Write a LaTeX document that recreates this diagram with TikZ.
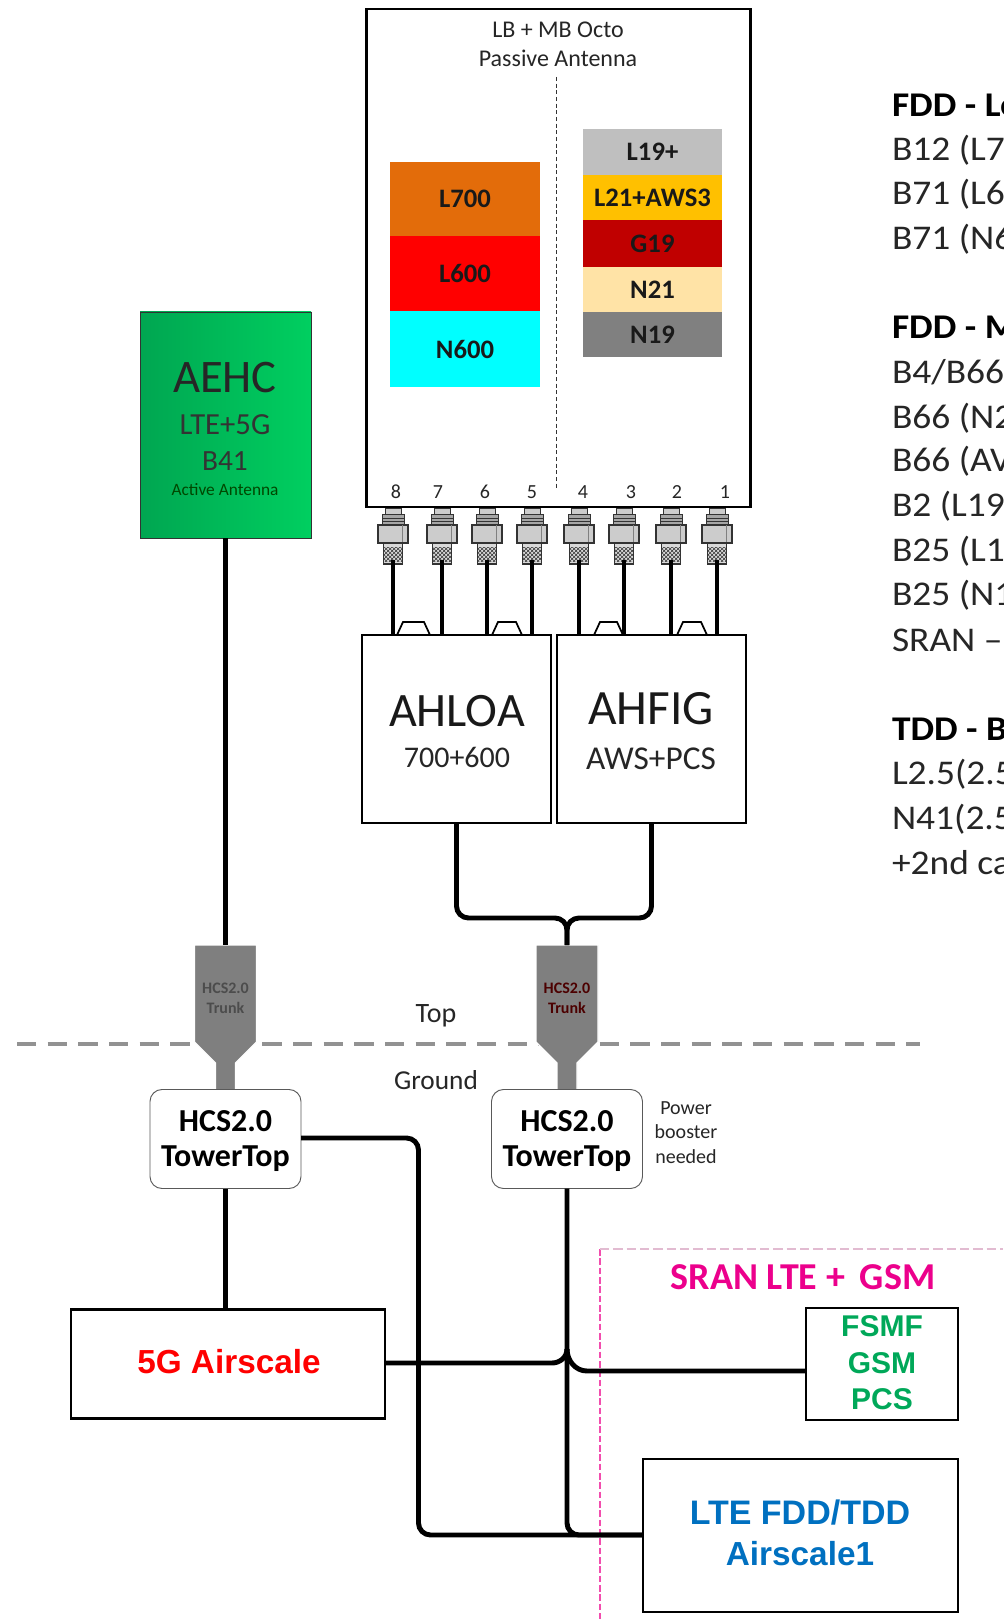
\documentclass[tikz,border=0pt]{standalone}
\usepackage{fontspec}
\setmainfont{Carlito}
\newfontfamily\arialfont{Liberation Sans}
\newfontfamily\sidefont[FakeStretch=1.08]{Carlito}
\usetikzlibrary{patterns}
\definecolor{bandOrange}{HTML}{E36C0A}
\definecolor{bandCyan}{HTML}{00FFFF}
\definecolor{bandGrey}{HTML}{BFBFBF}
\definecolor{bandGold}{HTML}{FFC000}
\definecolor{bandDark}{HTML}{C00000}
\definecolor{bandCream}{HTML}{FFE3A6}
\definecolor{bandSlate}{HTML}{808080}
\definecolor{trunkGrey}{HTML}{7F7F7F}
\definecolor{gsmGreen}{HTML}{00A859}
\definecolor{lteBlue}{HTML}{0070C0}
\definecolor{aehcL}{HTML}{00A651}
\definecolor{aehcR}{HTML}{00CF60}
\tikzset{
  sz/.style 2 args={minimum width=#1*0.75pt, minimum height=#2*0.75pt, inner sep=0pt, outer sep=0pt},
  boxs/.style={draw=black, line width=1.8pt},
  band/.style={fill=#1, draw=none},
  lbl/.style={inner sep=0pt, outer sep=0pt, anchor=center, align=center},
  bandtxt/.style={lbl, font=\fontsize{20}{24}\selectfont\bfseries, text=black!90},
  cable/.style={draw=black, line width=3.7pt, rounded corners=9pt},
  joint/.style={draw=black, line width=3.7pt},
  port/.style={line width=0.7pt, draw=black!80},
  tower/.style={draw=black!65, line width=0.7pt, fill=white, rounded corners=9pt},
  towertxt/.style={lbl, font=\fontsize{24}{28}\selectfont\bfseries},
  trunktxt/.style={lbl, font=\fontsize{12}{14}\selectfont\bfseries, text=#1},
  side/.style={inner sep=0pt, outer sep=0pt, anchor=west, font=\fontsize{26}{30}\selectfont\sidefont, text=black!85},
  sideb/.style={side, font=\fontsize{26}{30}\selectfont\sidefont\bfseries, text=black},
  portnum/.style={lbl, font=\fontsize{15}{17}\selectfont, text=black!85},
  aerial/.style={lbl, font=\fontsize{25}{29}\selectfont\arialfont\bfseries},
  gsmtxt/.style={lbl, font=\fontsize{22.5}{26}\selectfont\arialfont\bfseries, text=gsmGreen}
}
\begin{document}
\begin{tikzpicture}[x=0.75pt,y=-0.75pt]
\path[use as bounding box] (0,0) rectangle (1003,1619);
\clip (0,0) rectangle (1003,1619);
\fill[white] (0,0) rectangle (1003,1619);

% Passive antenna
\node[boxs, sz={384}{498}, fill=white] (antenna) at (558.5,258) {};
\node[lbl, font=\fontsize{18}{21}\selectfont, text=black!85] (antT1) at (558,30) {LB + MB Octo};
\node[lbl, font=\fontsize{18}{21}\selectfont, text=black!85] (antT2) at (558,58) {Passive Antenna};
\coordinate (divT) at (556.5,77);
\coordinate (divB) at (556.5,490);
\draw[black!80, line width=0.7pt, densely dashed] (divT) -- (divB);

\node[band=bandOrange, sz={150}{74}] (l700) at (465,199) {};
\node[band=red, sz={150}{75}] (l600) at (465,273.5) {};
\node[band=bandCyan, sz={150}{76}] (n600) at (465,349) {};
\node[bandtxt] (tl700) at (l700) {L700};
\node[bandtxt] (tl600) at (l600) {L600};
\node[bandtxt] (tn600) at (n600) {N600};

\node[band=bandGrey, sz={139}{46}] (l19) at (652.5,152) {};
\node[band=bandGold, sz={139}{45}] (l21) at (652.5,197.5) {};
\node[band=bandDark, sz={139}{47}] (g19) at (652.5,243.5) {};
\node[band=bandCream, sz={139}{45}] (n21) at (652.5,289.5) {};
\node[band=bandSlate, sz={139}{45}] (n19) at (652.5,334.5) {};
\node[bandtxt] (tl19) at (l19) {L19+};
\node[bandtxt] (tl21) at (l21) {L21+AWS3};
\node[bandtxt] (tg19) at (g19) {G19};
\node[bandtxt] (tn21) at (n21) {N21};
\node[bandtxt] (tn19) at (n19) {N19};

% Port numbers
\foreach \n/\x in {8/396,7/438,6/485,5/532,4/583,3/631,2/677,1/725}
  \node[portnum] (num\n) at (\x,492) {\n};

% AHLOA / AHFIG
\node[boxs, sz={189}{188}, fill=white] (ahloa) at (456.5,729) {};
\node[boxs, sz={189}{188}, fill=white] (ahfig) at (651.5,729) {};
\node[lbl, font=\fontsize{36}{40}\selectfont, text=black!90] (ahloaT) at (457,711) {AHLOA};
\node[lbl, font=\fontsize{22.5}{26}\selectfont, text=black!85] (ahloaS) at (457,757) {700+600};
\node[lbl, font=\fontsize{37}{41}\selectfont, text=black!90] (ahfigT) at (651,709) {AHFIG};
\node[lbl, font=\fontsize{25}{29}\selectfont, text=black!85] (ahfigS) at (651,759) {AWS+PCS};

% Handles on top of radios
\foreach \a/\b in {397/430,492/522,594/623,677/707}
  \draw[black, line width=1.3pt] (\a,635) -- (\a+6,622) -- (\b-6,622) -- (\b,635);

% Port connectors and jumpers
\foreach \n/\x/\r in {8/393/ahloa,7/442/ahloa,6/487/ahloa,5/532/ahloa,4/579/ahfig,3/624/ahfig,2/671/ahfig,1/717/ahfig}{
  \coordinate (p\n) at (\x,560);
  \draw[cable] (p\n) -- (p\n |- \r.north);
  \begin{scope}[shift={(\x,0)}]
    \filldraw[port, fill=black!20] (-8,508) rectangle (8,514);
    \filldraw[port, fill=black!35] (-11,514) rectangle (11,525);
    \draw[port] (-11,518) -- (11,518) (-11,521.5) -- (11,521.5);
    \filldraw[port, line width=1pt, fill=black!20] (-15,525) rectangle (15,543);
    \draw[port, draw=black!50] (9,525) -- (9,543);
    \filldraw[port, line width=1pt, fill=black!15] (-9.5,543) rectangle (9.5,564);
    \fill[pattern=crosshatch, pattern color=black!80] (-9.5,547) rectangle (9.5,561);
  \end{scope}
  \draw[cable] (p\n) -- +(0,6);
}

% AEHC active antenna
\node[draw=black!80, line width=0.6pt, left color=aehcL, right color=aehcR, sz={171}{226}] (aehc) at (225.5,425) {};
\node[lbl, font=\fontsize{35}{39}\selectfont, text=black!85] (aehcT) at (225,378) {AEHC};
\node[lbl, font=\fontsize{23}{27}\selectfont, text=black!80] (aehcS) at (225,425) {LTE+5G};
\node[lbl, font=\fontsize{22}{26}\selectfont, text=black!80] (aehcB) at (225,461) {B41};
\node[lbl, font=\fontsize{13}{15}\selectfont, text=black!60!green!70!black] (aehcA) at (225,490) {Active Antenna};

% Top / Ground line
\coordinate (gndL) at (17,1044);
\coordinate (gndR) at (920,1044);
\draw[trunkGrey!85, line width=3.4pt, dash pattern=on 14.5pt off 8.5pt] (gndL) -- (gndR);
\node[lbl, font=\fontsize{21}{24}\selectfont, text=black!85] (topT) at (436,1016) {Top};
\node[lbl, font=\fontsize{20.5}{24}\selectfont, text=black!85] (gndT) at (436,1080) {Ground};

% Trunk shapes and tower tops
\foreach \c/\x/\col in {L/225.5/black!70,R/567/red!30!black}{
  \coordinate (trunk\c) at (\x,945);
  \fill[trunkGrey, draw=white, line width=1pt] (\x-31,945) -- (\x+31,945) -- (\x+31,1042) -- (\x+10,1063) -- (\x+10,1092) -- (\x-10,1092) -- (\x-10,1063) -- (\x-31,1042) -- cycle;
  \node[trunktxt=\col] (trunkT\c) at (\x,988) {HCS2.0};
  \node[trunktxt=\col] (trunkB\c) at (\x,1008) {Trunk};
}
\node[tower, sz={151}{99}] (ttL) at (225.5,1139) {};
\node[tower, sz={151}{99}] (ttR) at (567,1139) {};
\node[towertxt] (ttL1) at (225.5,1121) {HCS2.0};
\node[towertxt] (ttL2) at (225.5,1159) {TowerTop};
\node[towertxt] (ttR1) at (567,1121) {HCS2.0};
\node[towertxt] (ttR2) at (567,1159) {TowerTop};
\node[lbl, font=\fontsize{15}{17}\selectfont, text=black!85] (pw1) at (686,1108) {Power};
\node[lbl, font=\fontsize{15}{17}\selectfont, text=black!85] (pw2) at (686,1132) {booster};
\node[lbl, font=\fontsize{15}{17}\selectfont, text=black!85] (pw3) at (686,1157) {needed};

% Base band boxes
\node[boxs, sz={314}{109}, fill=white] (as5g) at (228,1364) {};
\node[aerial, text=red] (as5gT) at (229,1362) {5G Airscale};
\node[boxs, sz={152}{112}, fill=white] (fsmf) at (882,1364) {};
\node[gsmtxt] (f1) at (882,1326) {FSMF};
\node[gsmtxt] (f2) at (882,1363) {GSM};
\node[gsmtxt] (f3) at (882,1399) {PCS};
\node[boxs, sz={315}{153}, fill=white] (lte) at (800.5,1535.5) {};
\node[aerial, text=lteBlue, font=\fontsize{25.5}{29}\selectfont\arialfont\bfseries] (l1) at (800,1513) {LTE FDD/TDD};
\node[aerial, text=lteBlue] (l2) at (800,1554) {Airscale1};

% SRAN frame
\coordinate (sranTL) at (600,1249);
\coordinate (sranTR) at (1003,1249);
\coordinate (sranBL) at (600,1619);
\draw[magenta!70, line width=1pt, dash pattern=on 5pt off 2pt] (sranTL) -- (sranBL);
\draw[black!40!magenta!30!white, line width=1pt, dash pattern=on 7pt off 3pt] (sranTL) -- (sranTR);
\node[lbl, font=\fontsize{28.5}{32}\selectfont\bfseries, text=magenta] (sranT) at (803,1277) {SRAN LTE +\, GSM};

% Cables
\coordinate (merge) at (567,918);
\draw[cable] (aehc.south) -- (trunkL);
\draw[cable] (ahloa.south) |- (merge) -- (trunkR);
\draw[cable] (ahfig.south) |- (merge) -- (trunkR);
\draw[cable] (ttL.south) -- (ttL.south |- as5g.north);
\coordinate (bend) at (418.5,1138);
\coordinate (lteIn) at (643,1535);
\coordinate (fsmfIn) at (806,1371);
\coordinate (asIn) at (385,1363);
\coordinate (tap) at (567,1349);
\draw[cable] (ttL.east |- bend) -- (bend) -- (bend |- lteIn) -- (lteIn);
\draw[cable] (ttR.south) -- (567,1535) -- (lteIn);
\draw[joint] (asIn) -- (552,1363) to[out=0,in=-90] (tap);
\draw[joint] (tap) to[out=-90,in=180] (587,1371) -- (fsmfIn);

% FDD / TDD list, cut off by the edge of the picture
\node[sideb] (s1) at (892,105) {FDD - Lo};
\node[side] (s2) at (892,150) {B12 (L7};
\node[side] (s3) at (892,194) {B71 (L6};
\node[side] (s4) at (892,239) {B71 (N6};
\node[sideb] (s5) at (892,327) {FDD - M};
\node[side] (s6) at (892,372) {B4/B66};
\node[side] (s7) at (892,418) {B66 (N2};
\node[side] (s8) at (892,461) {B66 (AV};
\node[side] (s9) at (892,506) {B2 (L19};
\node[side] (s10) at (892,551) {B25 (L1};
\node[side] (s11) at (892,595) {B25 (N1};
\node[side] (s12) at (892,640) {SRAN –};
\node[sideb] (s13) at (892,729) {TDD - B};
\node[side] (s14) at (892,774) {L2.5(2.5};
\node[side] (s15) at (892,819) {N41(2.5};
\node[side] (s16) at (892,863) {+2nd ca};
\end{tikzpicture}
\end{document}
